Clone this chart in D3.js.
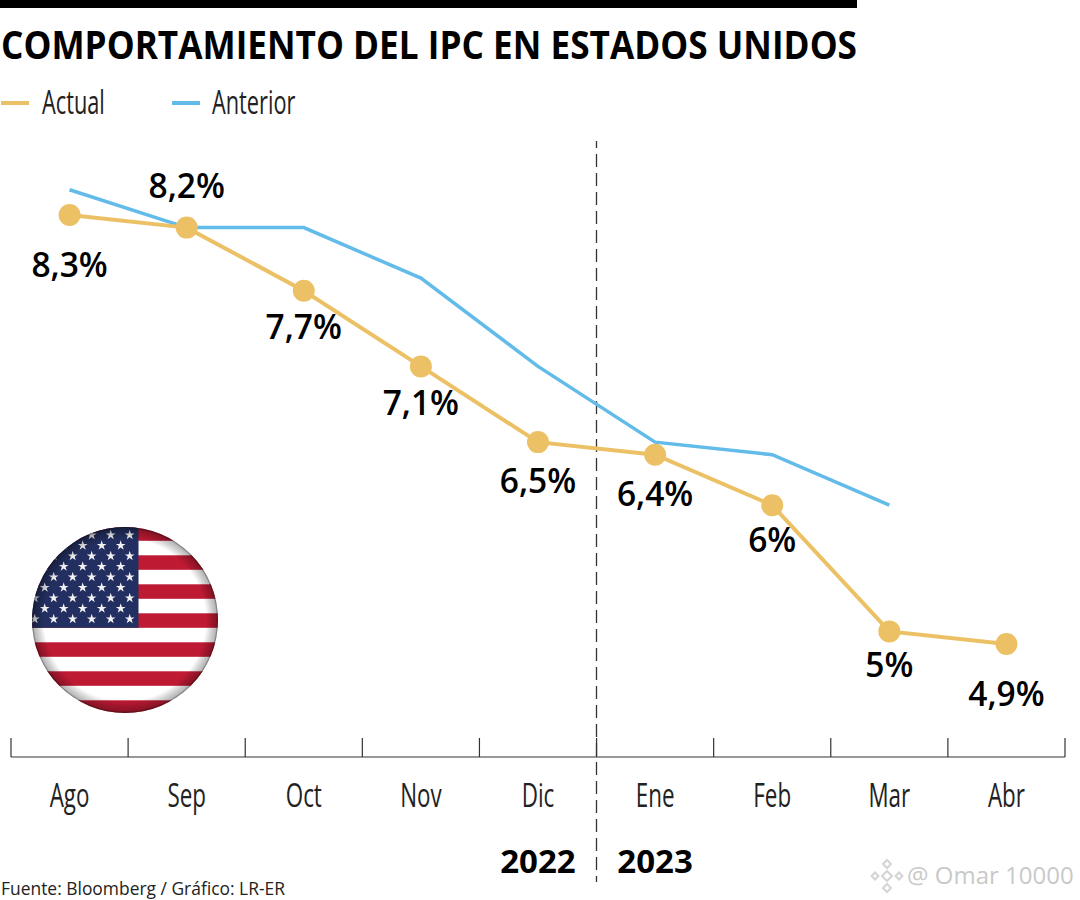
<!DOCTYPE html>
<html><head><meta charset="utf-8"><script src="https://cdn.jsdelivr.net/npm/d3@7"></script>
<style>html,body{margin:0;padding:0;background:#fff}svg{display:block}text{font-family:"Open Sans",sans-serif}</style></head><body>
<svg id="c" width="1080" height="900"></svg>
<script>
const months=["Ago","Sep","Oct","Nov","Dic","Ene","Feb","Mar","Abr"];
const actual=[8.3,8.2,7.7,7.1,6.5,6.4,6.0,5.0,4.9];
const anterior=[8.5,8.2,8.2,7.8,7.1,6.5,6.4,6.0];
const labels=["8,3%","8,2%","7,7%","7,1%","6,5%","6,4%","6%","5%","4,9%"];
const labelDy=[62,-30,48,49,51,51,47,46,62];
const years=["2022","2023"];
const svg=d3.select("#c");
const x=d3.scaleBand().domain(months).range([11,1065]);
const y=d3.scaleLinear().domain([4.9,8.3]).range([644,215]);
const cx=m=>x(m)+x.bandwidth()/2;
svg.append("rect").attr("x",0).attr("y",0).attr("width",857).attr("height",8).attr("fill","#000");
svg.append("text").attr("x",1).attr("y",59).attr("font-size",39).attr("font-weight",700).attr("textLength",856).attr("lengthAdjust","spacingAndGlyphs").text("COMPORTAMIENTO DEL IPC EN ESTADOS UNIDOS");
const line=d3.line().x((d,i)=>cx(months[i])).y(d=>y(d));
[["Actual","#ecc165",1,42],["Anterior","#62bbe8",172,212]].forEach(([t,c,x0,tx])=>{
 svg.append("line").attr("x1",x0).attr("x2",x0+28).attr("y1",103).attr("y2",103).attr("stroke",c).attr("stroke-width",4);
 svg.append("text").attr("font-size",32).attr("fill","#222").attr("transform",`translate(${tx},114) scale(0.68,1)`).text(t);
});
// flag
const defs=svg.append("defs");
const fx=125,fy=620,fr=93;
defs.append("clipPath").attr("id","fc").append("circle").attr("cx",fx).attr("cy",fy).attr("r",fr);
const g=svg.append("g").attr("clip-path","url(#fc)");
g.append("rect").attr("x",fx-fr).attr("y",fy-fr).attr("width",2*fr).attr("height",2*fr).attr("fill","#fff");
const stripes=d3.range(13);
const sh=14.5, flagTop=526.3;
g.selectAll("rect.s").data(stripes.filter(i=>i%2==0)).join("rect").attr("class","s").attr("x",fx-fr).attr("y",i=>flagTop+i*sh).attr("width",2*fr).attr("height",sh).attr("fill","#be1a34");
const rg=defs.append("radialGradient").attr("id","gl");
[[0,0],[0.87,0],[0.93,0.16],[0.98,0.28],[1,0.6]].forEach(([o,a])=>rg.append("stop").attr("offset",o).attr("stop-color","#000").attr("stop-opacity",a));
svg.append("circle").attr("cx",fx).attr("cy",fy).attr("r",fr).attr("fill","url(#gl)");
g.append("rect").attr("x",fx-fr).attr("y",flagTop).attr("width",106.5).attr("height",7*sh).attr("fill","#232f60");
const star=d3.symbol().type(d3.symbolStar).size(30);
for(let r=0;r<9;r++){const n=r%2?5:6;for(let i=0;i<n;i++){
 g.append("path").attr("d",star).attr("fill","#f2f2f2").attr("transform",`translate(${(r%2?120.7:129.7)-i*19},${535+r*10.5})`);}}
// axis
const base=757;
svg.append("line").attr("x1",11).attr("x2",1065).attr("y1",base).attr("y2",base).attr("stroke","#333").attr("stroke-width",1.2);
const edges=months.map(m=>x(m)).concat([x.range()[1]]);
svg.selectAll("line.t").data(edges).join("line").attr("class","t").attr("x1",d=>d).attr("x2",d=>d).attr("y1",738).attr("y2",base).attr("stroke","#333").attr("stroke-width",1.2);
svg.selectAll("text.m").data(months).join("text").attr("class","m").attr("text-anchor","middle").attr("font-size",32).attr("fill","#222")
 .attr("transform",d=>`translate(${cx(d)},807) scale(0.7,1)`).text(d=>d);
svg.append("line").attr("x1",596.5).attr("x2",596.5).attr("y1",141).attr("y2",882).attr("stroke","#333").attr("stroke-width",1.3).attr("stroke-dasharray","13 6").attr("stroke-dashoffset",6);
svg.append("path").attr("d",line(anterior)).attr("fill","none").attr("stroke","#62bbe8").attr("stroke-width",3.5);
svg.append("path").attr("d",line(actual)).attr("fill","none").attr("stroke","#ecc165").attr("stroke-width",4);
svg.selectAll("circle.p").data(actual).join("circle").attr("class","p").attr("cx",(d,i)=>cx(months[i])).attr("cy",d=>y(d)).attr("r",11).attr("fill","#ecc165");
svg.selectAll("text.v").data(labels).join("text").attr("class","v").attr("text-anchor","middle").attr("font-size",33.5).attr("font-weight",600).attr("fill","#000")
 .attr("x",(d,i)=>cx(months[i])).attr("y",(d,i)=>y(actual[i])+labelDy[i]).text(d=>d);
svg.selectAll("text.y").data(years).join("text").attr("class","y").attr("text-anchor","middle").attr("font-size",33).attr("font-weight",700).attr("x",(d,i)=>cx(months[4+i])).attr("y",873).text(d=>d);
svg.append("text").attr("x",1).attr("y",895).attr("font-size",19).attr("fill","#222").attr("textLength",284).attr("lengthAdjust","spacingAndGlyphs").text("Fuente: Bloomberg / Gráfico: LR-ER");
// watermark
const wm=svg.append("g").attr("fill","none").attr("stroke","#d4d4d4").attr("stroke-width",2);
[[887,876,5],[887,864,4],[887,888,4],[875,876,3.5],[899,876,3.5]].forEach(([a,b,s])=>wm.append("path").attr("d",`M${a} ${b-s}L${a+s} ${b}L${a} ${b+s}L${a-s} ${b}Z`));
svg.append("text").attr("x",907).attr("y",884).attr("font-size",24).attr("fill","#c9c9c9").text("@ Omar 10000");
</script></body></html>
